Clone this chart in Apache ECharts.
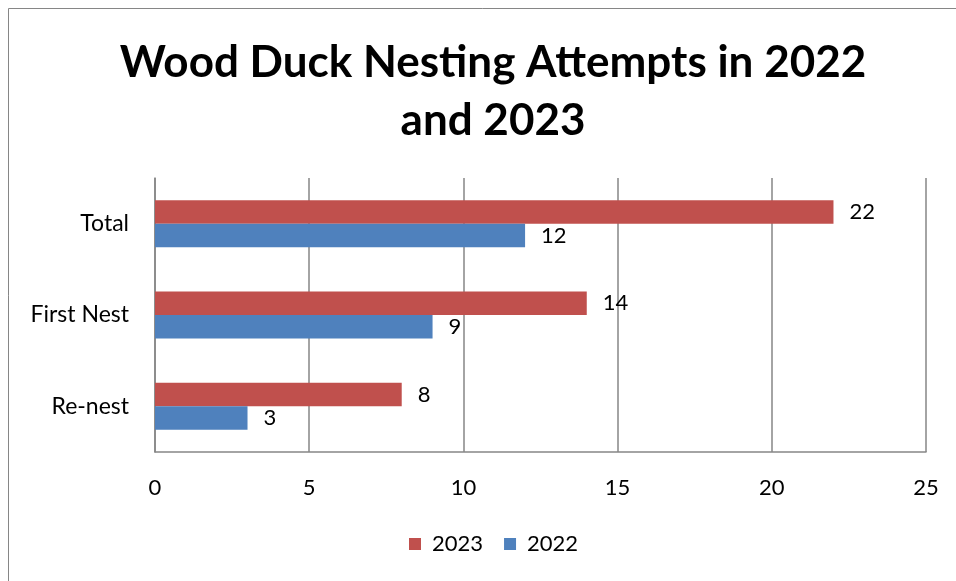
<!DOCTYPE html>
<html><head><meta charset="utf-8">
<script src="https://cdn.jsdelivr.net/npm/echarts@6/dist/echarts.min.js"></script>
<style>html,body{margin:0;padding:0;background:#fff}#c{width:956px;height:581px}</style>
</head><body><div id="c"></div>
<script>
const categories = ['Re-nest', 'First Nest', 'Total'];
const values2022 = [3, 9, 12];
const values2023 = [8, 14, 22];
const xTicks = [0, 5, 10, 15, 20, 25];
const seriesNames = ['2023', '2022'];

const chart = echarts.init(document.getElementById('c'), null, {renderer: 'canvas'});
const FONT = 'Lato';
const labelCfg = {show: true, position: 'right', distance: 16, color: '#000', fontFamily: FONT, fontSize: 22};
chart.setOption({
  animation: false,
  backgroundColor: '#fff',
  graphic: [{type: 'rect', shape: {x: 8.5, y: 8.5, width: 960, height: 600}, style: {fill: 'none', stroke: '#868686', lineWidth: 1}, silent: true}],
  title: {
    text: 'Wood Duck Nesting Attempts in 2022\nand 2023',
    left: 488, top: 29, textAlign: 'center',
    textStyle: {fontFamily: FONT, fontWeight: 'bold', fontSize: 44, color: '#000', lineHeight: 58}
  },
  legend: {
    data: seriesNames, bottom: 21, left: 404,
    itemWidth: 12, itemHeight: 12, itemGap: 21, icon: 'rect',
    textStyle: {fontFamily: FONT, fontSize: 22, color: '#000', padding: [0, 0, 0, 6]}
  },
  grid: {left: 155, right: 30, top: 178, bottom: 129, containLabel: false},
  xAxis: {
    type: 'value', min: 0, max: 25, interval: 5,
    axisLine: {show: true, lineStyle: {color: '#868686', width: 1.5}},
    axisTick: {show: false},
    splitLine: {show: true, lineStyle: {color: '#868686', width: 1.5}},
    axisLabel: {color: '#000', fontFamily: FONT, fontSize: 22, margin: 25,
      formatter: v => xTicks.includes(v) ? String(v) : ''}
  },
  yAxis: {
    type: 'category', data: categories,
    axisLine: {show: true, lineStyle: {color: '#868686', width: 1.5}},
    axisTick: {show: false},
    axisLabel: {color: '#000', fontFamily: FONT, fontSize: 23, margin: 26}
  },
  series: [
    {name: '2023', type: 'bar', data: values2023, barWidth: 23.5, barGap: '0%', itemStyle: {color: '#C0504D'}, label: labelCfg},
    {name: '2022', type: 'bar', data: values2022, barWidth: 23.5, barGap: '0%', itemStyle: {color: '#4F81BD'}, label: labelCfg}
  ]
});
</script></body></html>
